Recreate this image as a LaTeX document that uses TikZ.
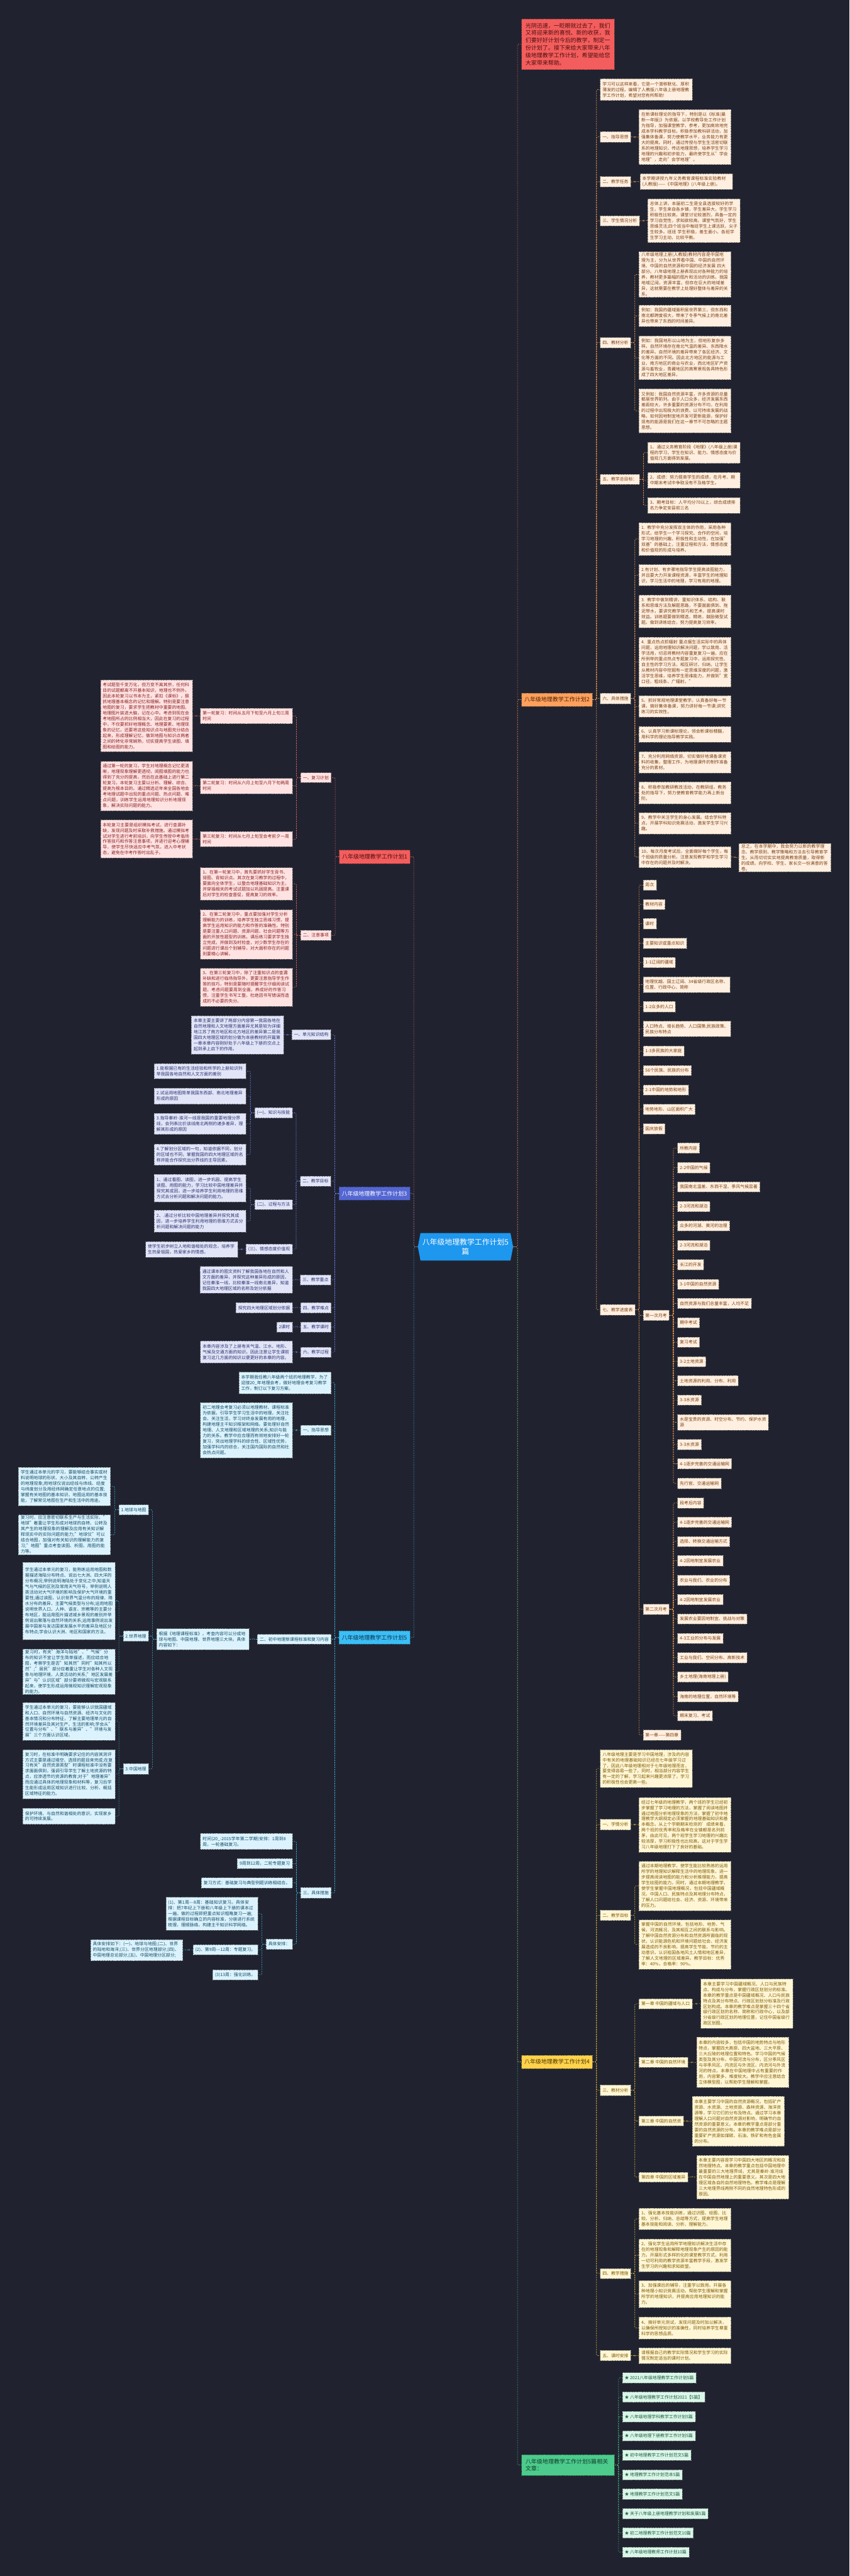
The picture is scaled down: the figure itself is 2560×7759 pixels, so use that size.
\documentclass[tikz,border=0pt]{standalone}
\usepackage{fontspec}
\setmainfont{Noto Sans CJK SC}
\XeTeXlinebreaklocale "zh"
\XeTeXlinebreakskip=0pt plus 0.5pt

\definecolor{bg}{HTML}{20232F}
\definecolor{redF}{HTML}{F45D5D}\definecolor{redL}{HTML}{E46464}\definecolor{redC}{HTML}{FFE3E3}\definecolor{redT}{HTML}{8A1F1F}\definecolor{redBT}{HTML}{4A0F0F}
\definecolor{orgF}{HTML}{FFA05C}\definecolor{orgL}{HTML}{E8924E}\definecolor{orgC}{HTML}{FFEFE0}\definecolor{orgT}{HTML}{7A3F12}\definecolor{orgBT}{HTML}{4A2405}
\definecolor{yelF}{HTML}{FFD24C}\definecolor{yelL}{HTML}{D9AE35}\definecolor{yelC}{HTML}{FFF6D6}\definecolor{yelT}{HTML}{7F5A00}\definecolor{yelBT}{HTML}{4A3800}
\definecolor{grnF}{HTML}{4CCB8C}\definecolor{grnL}{HTML}{48C086}\definecolor{grnC}{HTML}{DAF6E8}\definecolor{grnT}{HTML}{1D5A3E}\definecolor{grnBT}{HTML}{0F3A25}
\definecolor{bluF}{HTML}{5466D2}\definecolor{bluL}{HTML}{6B78DA}\definecolor{bluC}{HTML}{E2E5F7}\definecolor{bluT}{HTML}{2A3270}
\definecolor{cyaF}{HTML}{3BBEF6}\definecolor{cyaL}{HTML}{3EB5EA}\definecolor{cyaC}{HTML}{DCF3FD}\definecolor{cyaT}{HTML}{124A66}\definecolor{cyaBT}{HTML}{0A3148}
\definecolor{rootF}{HTML}{1E97EE}

\pgfdeclarelayer{back}\pgfdeclarelayer{lines}\pgfsetlayers{back,lines,main}

\tikzset{
 box/.style={rectangle, draw, dash pattern=on 3pt off 2pt, line width=0.8pt, inner xsep=7pt, inner ysep=3pt, align=left, font=\fontsize{13}{17}\selectfont},
 kid/.style 2 args={box, fill=#1, draw=#1!50!black, text=#2},
 cR/.style={kid={redC}{redT}}, cO/.style={kid={orgC}{orgT}}, cY/.style={kid={yelC}{yelT}},
 cG/.style={kid={grnC}{grnT}}, cB/.style={kid={bluC}{bluT}}, cC/.style={kid={cyaC}{cyaT}},
 brn/.style={box, inner xsep=8.5pt, font=\fontsize{17}{22}\selectfont},
 brR/.style={brn, fill=redF, draw=redF!60!black, text=redBT},
 brO/.style={brn, fill=orgF, draw=orgF!60!black, text=orgBT},
 brY/.style={brn, fill=yelF, draw=yelF!60!black, text=yelBT},
 brG/.style={brn, inner xsep=12pt, fill=grnF, draw=grnF!60!black, text=grnBT},
 brB/.style={brn, fill=bluF, draw=bluF!60!black, text=white},
 brC/.style={brn, fill=cyaF, draw=cyaF!60!black, text=cyaBT},
 brI/.style={brn, inner xsep=12pt, font=\fontsize{17}{22.4}\selectfont, fill=redF, draw=redF!60!black, text=redBT},
 ln/.style={dash pattern=on 4pt off 3pt, line width=1.1pt, rounded corners=3pt},
 lnR/.style={ln, draw=redL}, lnO/.style={ln, draw=orgL}, lnY/.style={ln, draw=yelL},
 lnG/.style={ln, draw=grnL}, lnB/.style={ln, draw=bluL}, lnC/.style={ln, draw=cyaL},
}
\newcommand\mkR[7]{\node[#2,anchor=north west,text width=#5pt,minimum height=#6pt] (#1) at (#3,#4) {#7};}
\newcommand\mkL[7]{\node[#2,anchor=north east,text width=#5pt,minimum height=#6pt] (#1) at (#3,#4) {#7};}
\newcommand\mkr[6]{\node[#2,anchor=north west,minimum height=#5pt] (#1) at (#3,#4) {#6};}
\newcommand\mkl[6]{\node[#2,anchor=north east,minimum height=#5pt] (#1) at (#3,#4) {#6};}
\newcommand\jr[3]{\draw[#1] (#2.east) -- ++(12,0) |- (#3.west);}
\newcommand\jl[3]{\draw[#1] (#2.west) -- ++(-12,0) |- (#3.east);}

\begin{document}
\begin{tikzpicture}[x=1pt,y=-1pt]
\begin{pgfonlayer}{back}
\fill[bg] (0,0) rectangle (2560,7759);
\end{pgfonlayer}
\useasboundingbox (0,0) rectangle (2560,7759);

% root
\fill[rootF] (1267,3714) -- (1538,3714) -- (1546,3755.5) -- (1538,3797) -- (1267,3797) -- (1259,3755.5) -- cycle;
\node[align=center, text=white, font=\fontsize{22.5}{29}\selectfont, minimum width=287pt, minimum height=83pt, inner sep=0pt] (root) at (1402.5,3755.5) {八年级地理教学工作计划5\\篇};

% ===== right branches =====
\mkR{intro}{brI}{1571}{56}{256}{153}{光阴迅速，一眨眼就过去了，我们又将迎来新的喜悦、新的收获，我们要好好计划今后的教学，制定一份计划了。接下来给大家带来八年级地理教学工作计划，希望能给您大家带来帮助。}
\mkr{b2}{brO}{1571}{2087}{40}{八年级地理教学工作计划2}
\mkr{b4}{brY}{1571}{6190}{40}{八年级地理教学工作计划4}
\mkR{rel}{brG}{1571}{7393}{256}{63}{八年级地理教学工作计划5篇相关文章：}

% ----- plan 2 -----
\mkR{o0}{cO}{1808}{237}{264}{65}{学习可以这样来看，它是一个潜移默化、厚积薄发的过程。编辑了人教版八年级上册地理教学工作计划，希望对您有所帮助!}
\mkr{o1}{cO}{1808}{396}{32}{一、指导思想}
\mkR{o1a}{cO}{1925}{330}{263}{165}{在新课标理论的指导下，特别是以《标准(最新一年版)》为依据，以学校教导处工作计划为指导，加强课堂教学，参考，更加高效地完成本学科教学目标。积极参加教科研活动，加强集体备课，努力使教学水平，业务能力有更大的提高。同时，通过传授与学生生活密切联系的地理知识，传达地理思想，培养学生学习地理的兴趣和初步能力，最终使学生从"学会地理"，走向"会学地理"。}
\mkr{o2}{cO}{1808}{531}{32}{二、教学任务}
\mkR{o2a}{cO}{1928}{523}{264}{47}{本学期讲授九年义务教育课程标准实验教材(人教版)——《中国地理》(八年级上册)。}
\mkr{o3}{cO}{1808}{649}{31}{三、学生情况分析}
\mkR{o3a}{cO}{1951}{598}{264}{132}{总体上讲，本届初二生是全县选拔较好的学生，学生来自各乡镇，学生差异大，学生学习积极性比较高，课堂讨论较激烈，具备一定的学习自觉性，求知欲较高。课堂气氛好，学生思维灵活;四个班当中每班学生上课活跃，尖子生较多。班班 学生积极，差生面小。各班学生学习主动，比较平衡。}
\mkr{o4}{cO}{1808}{1016}{31}{四、教材分析}
\mkR{o4a}{cO}{1925}{758}{263}{133}{八年级地理上册(人教版)教材内容是中国地理为主，分为从世界看中国、中国的自然环境、中国的自然资源和中国的经济发展 四大部分。八年级地理上册表现出对各种能力的培养，教材更多篇幅的图片和活动的训练。我国地域辽阔，资源丰富，但存在巨大的地域差异，这就需要在教学上处理好整体与差异的关系。}
\mkR{o4b}{cO}{1925}{919}{263}{64}{例如：我国的疆域面积居世界第三，但东西和南北都跨度很大，带来了冬季气候上的南北差异也带来了东西的时间差异。}
\mkR{o4c}{cO}{1925}{1012}{263}{131}{例如：我国地形以山地为主，但地形复杂多样。自然环境存在南北气温的差异、东西降水的差异。自然环境的差异带来了各区经济、文化等方面的不同。因此北方地区的能源与工业，南方地区的商业与农业，西北地区矿产资源与畜牧业，青藏地区的高寒景观各具特色形成了四大地区差异。}
\mkR{o4d}{cO}{1925}{1171}{263}{132}{又例如：我国自然资源丰富，许多资源的总量都居世界前列。由于人口众多，经济发展东西差距较大，许多重要的资源分布不均，在利用的过程中出现极大的浪费。以可持续发展的战略，如何因地制宜地开发可更新能源，保护好现有的能源是我们在这一章节不可忽略的主题思想。}
\mkr{o5}{cO}{1808}{1428}{31}{五、教学总目标：}
\mkR{o5a}{cO}{1951}{1331}{264}{64}{1、通过义务教育阶段《地理》(八年级上册)课程的学习，学生在知识、能力、情感态度与价值观几方面得到发展。}
\mkR{o5b}{cO}{1951}{1423}{264}{47}{2、成绩：努力提高学生的成绩，在月考、期中期末考试中争取没有不及格学生。}
\mkR{o5c}{cO}{1951}{1498}{264}{48}{3、期考目标：人平均分70以上，综合成绩排名力争定安县前三名}
\mkr{o6}{cO}{1808}{2087}{32}{六、具体措施}
\mkR{o6a}{cO}{1925}{1574}{263}{98}{1. 教学中充分发挥双主体的作用，采用各种形式，给学生一个学习探究、合作的空间，培学习地理的兴趣、积极性和主动性，在加强"双基"的基础上，注重过程和方法，情感态度和价值观的形成与培养。}
\mkR{o6b}{cO}{1925}{1700}{263}{64}{2.有计划、有步骤地指导学生提高读图能力，并且要大力开发课程资源，丰富学生的地理知识，学习生活中的地理，学习有用的地理。}
\mkR{o6c}{cO}{1925}{1792}{263}{99}{3. 教学中做到精讲，重知识体系、结构、联系和思维方法及解题思路，不要面面俱到、拖泥带水，要讲究教学技巧和艺术，提高课时效益。训练题要做到精选、精练，鼓励微型试题。做到讲练结合，努力提高复习效率。}
\mkR{o6d}{cO}{1925}{1919}{263}{149}{4. 重点热点抓辐射 重点据生活实际中的具体问题，运用地理知识解决问题，学以致用、活学活用，切忌将教材内容重复复习一遍，应在所例举的重点热点专题复习中，运用探究性、自主性的学习方法，相互研讨、归纳，让学生从教材内容中挖掘有一定思维深度的问题，激活学生思维，培养学生思维能力，并做到"宽口径、粗线条、广辐射。"}
\mkR{o6e}{cO}{1925}{2095}{263}{65}{5、抓好常规地理课堂教学。认真备好每一节课，搞好集体备课，努力讲好每一节课;讲究练习的实效性。}
\mkR{o6f}{cO}{1925}{2187}{263}{48}{6、认真学习新课标理论，领会新课标精髓，用科学的理论指导教学实践。}
\mkR{o6g}{cO}{1925}{2263}{263}{65}{7、充分利用网络资源，切实做好地课备课资料的收集，整理工作，为地理课件的制作准备充分的素材。}
\mkR{o6h}{cO}{1925}{2355}{263}{65}{8、积极参加教研教改活动，在教研组，教务处的指导下，努力使教育教学能力再上新台阶。}
\mkR{o6i}{cO}{1925}{2447}{263}{65}{9、教学中关注学生的身心发展。结合学科特点，开展学科知识竞赛活动，激发学生学习兴趣。}
\mkR{o6j}{cO}{1925}{2549}{263}{64}{10、每次月度考试后，全面做好每个学生，每个班级的质量分析。注意发现教学和学生学习中存在的问题并及时解决。}
\mkR{o6k}{cO}{2226}{2540}{263}{82}{总之，在本学期中，我会努力以新的教学理念、教学原则、教学策略和方法去引导教育学生。从而切切实实地提高教育质量，取得新的成绩。向学校、学生、家长交一份满意的答卷。}
\mkr{o7}{cO}{1808}{3929}{31}{七、教学进度表}
\mkr{q1}{cO}{1937}{2650}{31}{周次}
\mkr{q2}{cO}{1937}{2708}{31}{教材内容}
\mkr{q3}{cO}{1937}{2766}{31}{课时}
\mkr{q4}{cO}{1937}{2825}{31}{主要知识或重点知识}
\mkr{q5}{cO}{1937}{2883}{31}{1-1辽阔的疆域}
\mkr{q6}{cO}{1937}{2941}{48}{地理优越、国土辽阔、34省级行政区名称、\\位置、行政中心、简称}
\mkr{q7}{cO}{1937}{3016}{31}{1-2众多的人口}
\mkr{q8}{cO}{1937}{3075}{47}{人口特点、增长趋势、人口国策;民族政策、\\民族分布特点}
\mkr{q9}{cO}{1937}{3150}{31}{1-3多民族的大家庭}
\mkr{q10}{cO}{1937}{3208}{31}{56个民族、民族的分布}
\mkr{q11}{cO}{1937}{3267}{31}{2-1中国的地势和地形}
\mkr{q12}{cO}{1937}{3325}{31}{地势地形、山区面积广大}
\mkr{q13}{cO}{1937}{3384}{31}{国庆放假}
\mkr{q14}{cO}{1937}{3946}{31}{第一次月考}
\mkr{q15}{cO}{1937}{4831}{31}{第二次月考}
\mkr{q16}{cO}{1937}{5210}{31}{第一章——第四章}
\mkr{a1}{cO}{2041}{3442}{31}{所教内容}
\mkr{a2}{cO}{2041}{3501}{31}{2-2中国的气候}
\mkr{a3}{cO}{2041}{3559}{31}{我国南北温差、东西干湿、季风气候显著}
\mkr{a4}{cO}{2041}{3618}{31}{2-3河流和湖泊}
\mkr{a5}{cO}{2041}{3676}{31}{众多的河湖、黄河的治理}
\mkr{a6}{cO}{2041}{3735}{31}{2-3河流和湖泊}
\mkr{a7}{cO}{2041}{3793}{31}{长江的开发}
\mkr{a8}{cO}{2041}{3852}{31}{3-1中国的自然资源}
\mkr{a9}{cO}{2041}{3910}{31}{自然资源与我们总量丰富，人均不足}
\mkr{a10}{cO}{2041}{3968}{31}{期中考试}
\mkr{a11}{cO}{2041}{4027}{31}{复习考试}
\mkr{a12}{cO}{2041}{4085}{31}{3-2土地资源}
\mkr{a13}{cO}{2041}{4143}{31}{土地资源的利用、分布、利用}
\mkr{a14}{cO}{2041}{4201}{31}{3-3水资源}
\mkr{a15}{cO}{2041}{4260}{47}{水是宝贵的资源、时空分布、节约、保护水资\\源}
\mkr{a16}{cO}{2041}{4335}{31}{3-3水资源}
\mkr{a17}{cO}{2041}{4393}{31}{4-1逐步完善的交通运输网}
\mkr{a18}{cO}{2041}{4452}{31}{先行官、交通运输网}
\mkr{c1}{cO}{2041}{4511}{31}{段考后内容}
\mkr{c2}{cO}{2041}{4569}{31}{4-1逐步完善的交通运输网}
\mkr{c3}{cO}{2041}{4627}{31}{选择、转换交通运输方式}
\mkr{c4}{cO}{2041}{4685}{31}{4-2因地制宜发展农业}
\mkr{c5}{cO}{2041}{4744}{31}{农业与我们、农业的分布}
\mkr{c6}{cO}{2041}{4802}{31}{4-2因地制宜发展农业}
\mkr{c7}{cO}{2041}{4860}{31}{发展农业要因地制宜、挑战与对策}
\mkr{c8}{cO}{2041}{4919}{31}{4-3工业的分布与发展}
\mkr{c9}{cO}{2041}{4977}{31}{工业与我们、空间分布、高新技术}
\mkr{c10}{cO}{2041}{5035}{31}{乡土地理(海南地理上册)}
\mkr{c11}{cO}{2041}{5094}{31}{海南的地理位置，自然环境等}
\mkr{c12}{cO}{2041}{5152}{31}{期末复习、考试}

% ----- plan 4 -----
\mkR{y0}{cY}{1808}{5269}{264}{114}{八年级地理主要是学习中国地理，涉及的内容中有关的地理基础知识已经在七年级学习过了，因此八年级地理相对于七年级地理而言，要变得容易一些了。同时，相当部分内容学生有一定的了解，学习起来兴趣更浓厚了，学习的积极性也会更高一些。}
\mkr{y1}{cY}{1808}{5479}{32}{一、学情分析}
\mkR{y1a}{cY}{1925}{5413}{263}{165}{经过七年级的地理教学，两个班的学生已经初步掌握了学习地理的方法，掌握了阅读地图并通过地图分析地理现象的方法，掌握了初中地理教学大纲规定必须掌握的地理基础知识和基本概念。从上个学期期末检测的'成绩来看，两个班的优秀率和及格率在全镇都是名列前茅，由此可见，两个班学生学习地理的兴趣比较浓厚，学习积极性也比较高。这对于学生学习八年级地理打下了良好的基础。}
\mkr{y2}{cY}{1808}{5753}{31}{二、教学目标}
\mkR{y2a}{cY}{1925}{5606}{263}{148}{通过本期地理教学，使学生能比较熟练的运用所学的地理知识解释生活中的地理现象，进一步提高阅读地图的能力和分析推理能力，提高学生绘图的能力。同时，通过本期地理教学，使学生掌握中国地理概况，包括中国疆域概况，中国人口、民族特点及其地理分布特点，了解人口问题给社会、经济、资源、环境带来的压力。}
\mkR{y2b}{cY}{1925}{5782}{263}{148}{掌握中国的自然环境，包括地形、地势、气候，河流概况，及其相互之间的联系与影响。了解中国自然资源分布和自然资源所面临的现状，认识能源危机和环境问题给社会、经济发展造成的不良影响，提高学生节能、节约的主动意识。认识祖国各地风土人情和地区差异，了解人文地理的区域差异。教学目标：优秀率：40\%，合格率：90\%。}
\mkr{y3}{cY}{1808}{6280}{31}{三、教材分析}
\mkr{y3a}{cY}{1925}{6020}{30}{第一章 中国的疆域与人口}
\mkR{y3a1}{cY}{2111}{5960}{264}{149}{本章主要学习中国疆域概况、人口与民族特点、构成与分布，掌握行政区划划分的标准。本章的教学重点是中国疆域概况、人口与民族特点及其分布特点、行政区划划分标准及行政区划构成。本章的教学难点是掌握三十四个省级行政区划的名称、简称和行政中心，以及部分省级行政区划的地理位置，记住中国省级行政区划图。}
\mkr{y3b}{cY}{1925}{6196}{30}{第二章 中国的自然环境}
\mkR{y3b1}{cY}{2098}{6136}{264}{151}{本章的内容较多，包括中国的地势特点与地形特点，掌握四大高原、四大盆地、三大平原、三大丘陵的地理位置和特色。学习中国的气候类型及其分布，中国河流与分布，区分季风区与非季风区、内流区与外流区、内流河与外流河的特点。本章在中国地理中占有重要的作用，内容繁多，难度较大。教学中应注意结合立体模型图，以帮助学生理解和掌握。}
\mkr{y3c}{cY}{1925}{6373}{30}{第三章 中国的自然资}
\mkR{y3c1}{cY}{2085}{6314}{264}{150}{本章主要学习中国的自然资源概况，包括矿产资源、水资源、土地资源、森林资源、海洋资源等，学习它们的分布及特点。通过学习本章理解人口问题对自然资源对影响，明确节约自然资源的重要意义。本章的教学重点是部分重要的自然资源的分布。本章的教学难点是部分重要矿产资源如煤碳、石油、铁矿和有色金属的分布。}
\mkr{y3d}{cY}{1925}{6542}{30}{第四章 中国的区域差异}
\mkR{y3d1}{cY}{2098}{6491}{264}{132}{本章主要内容是学习中国四大地区的概况和自然地理特点。本章的教学重点包括中国地理中最重要的三大地理界线，尤其是秦岭-淮河线在中国自然地理上的重要意义。其次是四大地理区域各自的自然地理特色。教学难点是理解三大地理界线两侧不同的自然地理特色形成的原因。}
\mkr{y4}{cY}{1808}{6832}{30}{四、教学措施}
\mkR{y4a}{cY}{1925}{6651}{263}{64}{1、强化基本技能训练，通过识图、绘图、比较、分析、归纳、总结等方式，提高学生地理基本技能和阅读、分析、理解能力。}
\mkR{y4b}{cY}{1925}{6743}{263}{99}{2、强化学生运用所学地理知识解决生活中存在的地理现象和解释地理现象产生的原因的能力。开展形式多样的化的课堂教学方式，利用一切可利用的教学资源丰富教学手段，激发学生学习的兴趣和求知欲望。}
\mkR{y4c}{cY}{1925}{6869}{263}{81}{3、加强课后的辅导，注重学以致用。开展各种地理小知识竞赛活动，帮助学生理解和掌握所学的地理知识，并提高应用地理知识的能力。}
\mkR{y4d}{cY}{1925}{6979}{263}{65}{4、搞好单元测试，发现问题及时加以解决，以确保所授知识的准确性，同时培养学生尊重科学的思想品质。}
\mkr{y5}{cY}{1808}{7079}{31}{五、课时安排}
\mkR{y5a}{cY}{1925}{7071}{263}{48}{请根据自己的教学实际情况和学生学习的实际情况制定适当的课时计划。}

% ----- related -----
\mkr{g0}{cG}{1875}{7146}{31}{★ 2021八年级地理教学工作计划5篇}
\mkr{g1}{cG}{1875}{7204}{31}{★ 八年级地理教学工作计划2021【5篇】}
\mkr{g2}{cG}{1875}{7263}{31}{★ 八年级地理学科教学工作计划5篇}
\mkr{g3}{cG}{1875}{7321}{31}{★ 八年级地理下册教学工作计划5篇}
\mkr{g4}{cG}{1875}{7379}{31}{★ 初中地理教学工作计划范文5篇}
\mkr{g5}{cG}{1875}{7438}{31}{★ 地理教学工作计划范本5篇}
\mkr{g6}{cG}{1875}{7496}{31}{★ 地理教学工作计划范文5篇}
\mkr{g7}{cG}{1875}{7555}{31}{★ 关于八年级上册地理教学计划和发展5篇}
\mkr{g8}{cG}{1875}{7613}{31}{★ 初二地理教学工作计划范文10篇}
\mkr{g9}{cG}{1875}{7671}{31}{★ 八年级地理教师工作计划10篇}

% ===== left branches =====
\mkl{b1}{brR}{1236}{2560}{40}{八年级地理教学工作计划1}
\mkl{b3}{brB}{1235}{3575}{39}{八年级地理教学工作计划3}
\mkl{b5}{brC}{1235}{4912}{40}{八年级地理教学工作计划5}

% ----- plan 1 -----
\mkl{r1}{cR}{998}{2327}{30}{一、复习计划}
\mkL{r1a}{cR}{881}{2133}{263}{46}{第一轮复习：时间从五月下旬至六月上旬三周时间}
\mkL{r1a1}{cR}{580}{2047}{263}{217}{考试题型千变万化，但万变不离其宗，任何科目的试题都离不开基本知识，地理也不例外。因此本轮复习以书本为主，紧扣《课标》，狠抓地理基本概念的记忆和理解。特别是要注意地图的复习，要求学生把教材中重要的地图、地理图片装进大脑，记在心中。考虑到现在会考地图所占的比例相当大，因此在复习的过程中，不仅要抓好地理概念、地理要素、地理现象的记忆，还要将这些知识点与地图充分结合起来，形成理解记忆，做到地图与知识点两者之间的转化非常娴熟，切实提高学生读图、填图和绘图的能力。}
\mkL{r1b}{cR}{881}{2344}{263}{46}{第二轮复习：时间从六月上旬至六月下旬两周时间}
\mkL{r1b1}{cR}{580}{2293}{263}{148}{通过第一轮的复习，学生对地理概念记忆更清晰，地理现象理解更透彻，阅图填图的能力也得到了充分的提高，然后在此基础上进行第二轮复习。本轮复习主要以分析、理解、综合、提高为根本目的。通过精选近年来全国各地会考地理试题中出现的重点问题、热点问题、难点问题，训练学生运用地理知识分析地理现象，解决实际问题的能力。}
\mkL{r1c}{cR}{881}{2504}{263}{46}{第三轮复习：时间从七月上旬至会考前夕一周时间}
\mkL{r1c1}{cR}{580}{2469}{263}{115}{本轮复习主要是组织模拟考试，进行查漏补缺，发现问题及时采取补救措施。通过模拟考试对学生进行考前培训，向学生传授中考临场作答技巧和作答注意事项，并进行迎考心理辅导，使学生尽快适应中考气氛，进入中考状态，避免在中考作答时出乱子。}
\mkl{r2}{cR}{998}{2802}{30}{二、注意事项}
\mkL{r2a}{cR}{881}{2613}{263}{97}{1、在第一轮复习中，首先要抓好学生背书、背图、背知识点。其次在复习教学的过程中，要面向全体学生，以整合地理基础知识为主，并穿插相关的考试试题加以巩固提高。注重课后对学生的检查督促，提高复习的效率。}
\mkL{r2b}{cR}{881}{2740}{263}{148}{2、在第二轮复习中，重点要加强对学生分析理解能力的训练，培养学生独立思维习惯，提高学生运用知识的能力和作答的准确性。特别是要注重人口问题、资源问题、社会问题等方面的开放性题型的训练。课后练习要求学生独立完成，并做到及时检查，对少数学生存在的问题进行课后个别辅导，对大面积存在的问题则要精心讲解。}
\mkL{r2c}{cR}{881}{2916}{263}{114}{3、在第三轮复习中，除了注重知识点的查漏补缺和进行临场指导外，更要注意指导学生作答的技巧，特别是要随时提醒学生仔细阅读试题，考虑问题要周到全面，养成好的作答习惯，注重学生书写工整，杜绝因书写错误而造成的不必要的失分。}

% ----- plan 3 -----
\mkl{u1}{cB}{997}{3101}{30}{一、单元知识结构}
\mkL{u1a}{cB}{855}{3059}{264}{115}{本章主要主要讲了两部分内容第一我国各地在自然地理和人文地理方面差异尤其是较为详细地江苏了南方地区和北方地区的差异第二是我国四大地理区域的划分做为本册教材的开篇第一章本章内容刚好处于八年级上下册的交点上起到承上启下的作用。}
\mkl{u2}{cB}{997}{3542}{30}{二、教学目标}
\mkl{k1}{cB}{881}{3336}{31}{(一)、知识与技能}
\mkL{k1a}{cB}{742}{3203}{263}{46}{1.能根据已有的生活经验和所学的上册知识列举我国各地自然和人文方面的差别}
\mkL{k1b}{cB}{742}{3277}{263}{48}{2.试运用地图简单我国东西部、南北地理差异形成的原因}
\mkL{k1c}{cB}{742}{3353}{263}{63}{3.指导秦岭-淮河一线是我国的重要地理分界线，会列表比价该线南北两侧的诸多差异，理解其形成的原因}
\mkL{k1d}{cB}{742}{3445}{263}{64}{4.了解划分区域的一句，知道依据不同，划分的区域也不同，掌握我国的四大地理区域的名称并能合作探究出分界线的主导因素。}
\mkl{k2}{cB}{881}{3613}{30}{(二)、过程与方法}
\mkL{k2a}{cB}{742}{3537}{263}{82}{1、通过看图、读图，进一步巩固、提高学生读图、用图的能力，学习比较中国地理差异并探究其成因，进一步培养学生利用地理的思维方式去分析问题和解决问题的能力。}
\mkL{k2b}{cB}{742}{3645}{263}{65}{2、.通过分析比较中国地理差异并探究其成因，进一步培养学生利用地理的思维方式去分析问题和解决问题的能力}
\mkl{k3}{cB}{881}{3747}{30}{(三)、情感态度价值观}
\mkL{k3a}{cB}{716}{3739}{263}{47}{使学生初步树立人地和谐相处的观念，培养学生热爱祖国，热爱家乡的情感。}
\mkl{u3}{cB}{997}{3839}{31}{三、教学重点}
\mkL{u3a}{cB}{881}{3814}{264}{81}{通过课本的图文资料了解我国各地在自然和人文方面的差异，并探究这种差异形成的原因，记住秦淮一线，比较秦淮一线南北差异，知道我国四大地理区域的名称及划分依据}
\mkl{u4}{cB}{998}{3923}{31}{四、教学难点}
\mkl{u4a}{cB}{881}{3923}{31}{探究四大地理区域划分依据}
\mkl{u5}{cB}{998}{3981}{31}{五、教学课时}
\mkl{u5a}{cB}{881}{3981}{31}{2课时}
\mkl{u6}{cB}{998}{4057}{31}{六、教学过程}
\mkL{u6a}{cB}{881}{4039}{263}{65}{本章内容涉及了上册有关气温、江水、地形、气候及交通方面的知识，因此注意让学生课前复习这几方面的知识以便更好的本章的内容。}

% ----- plan 5 -----
\mkL{v0}{cC}{998}{4132}{264}{65}{本学期我任教八年级两个班的地理教学，为了迎接20\_年地理会考，做好地理会考复习教学工作，制订以下复习方案。}
\mkl{v1}{cC}{998}{4292}{31}{一、指导思想}
\mkL{v1a}{cC}{881}{4224}{263}{166}{初二地理会考复习必须以地理教材、课程标准为依据，引导学生学习生活中的地理，关注社会、关注生活，学习对终身发展有用的地理，构建地理主干知识框架和网络。要处理好自然地理、人文地理和区域地理的关系;知识与能力的关系。教学中应合理而有效地安排好一轮复习，突出地理学科的综合性、区域性优势，加强学科内的综合，关注国内国际的自然和社会热点问题。}
\mkl{v2}{cC}{998}{4922}{30}{二、初中地理新课程标准和复习内容}
\mkL{v2a}{cC}{750}{4905}{264}{64}{根据《地理课程标准》，考查内容可以分成地球与地图、中国地理、世界地理三大块。具体内容如下：}
\mkl{w1}{cC}{448}{4532}{30}{1.地球与地图}
\mkL{w1a}{cC}{333}{4419}{263}{115}{学生通过本单元的学习，要能够结合事实或材料说明地球的形状、大小及其自转、公转产生的地理现象;用地球仪说出经线与纬线、经度与纬度划分及用经纬网确定任意地点的位置;掌握有关地图的基本知识、地图运用的基本技能，了解常见地图在生产和生活中的用途。}
\mkL{w1b}{cC}{333}{4562}{263}{115}{复习时，应注意密切联系生产与生活实际，"地球"着重让学生形成对地球的自转、公转及其产生的地理现象的理解及应用有关知识解释现实中的实际问题的能力;"地球仪"可以结合地图，加强对有关知识的理解能力的复习;"地图"重点考查读图、析图、用图的能力等。}
\mkl{w2}{cC}{448}{4912}{31}{2.世界地理}
\mkL{w2a}{cC}{347}{4705}{264}{233}{学生通过本单元的复习，能熟练运用地图和数据描述海陆分布特点、说出七大洲、四大洋的分布概况;举例说明海陆处于变化之中;知道天气与气候的区别及常用天气符号，举例说明人类活动对大气环境的影响及保护大气环境的重要性;通过读图，认识世界气温分布的规律、降水分布的差异、主要气候类型与分布;运用地图说明世界人口、人种、语言、宗教等的主要分布地区，能运用图片描述城乡景观的差别并举例说出聚落与自然环境的关系;运用事例说出发展中国家与发达国家发展水平的差异及地区分布特点;学会认识大洲、地区和国家的方法。}
\mkL{w2b}{cC}{347}{4966}{264}{132}{复习时，有关"海洋与陆地"、"气候"分布的知识不宜让学生简单描述，而应结合地图，考察学生是否"知其然"同时"知其所以然";"居民"部分应着重让学生对各种人文现象与地理环境、人类活动的关系;"地区发展差异"与"认识区域"部分要将微观与宏观联系起来，使学生形成运用微观知识理解宏观现象的能力。}
\mkl{w3}{cC}{448}{5312}{31}{3.中国地理}
\mkL{w3a}{cC}{347}{5127}{264}{114}{学生通过本单元的复习，要能够认识我国疆域和人口、自然环境与自然资源、经济与文化的基本情况和分布特征，了解主要地理单元的自然环境差异及其对生产、生活的影响;学会从"位置与分布"、"联系与差异"、"环境与发展"三个方面认识区域。}
\mkL{w3b}{cC}{347}{5269}{264}{148}{复习时，在标准中明确要求记住的内容其测评方式主要是通过填空、选择的题目来完成;在复习有关"自然资源类型"时课程标准中没有要求面面俱到，强调引导学生了解土地资源的特点，应渗透节约资源的教育;对于"地理差异"而应通过具体的地理现象和材料等，复习后学生能形成运用区域知识进行比较、分析、概括区域特征的能力。}
\mkL{w3c}{cC}{347}{5446}{264}{48}{保护环境、与自然和谐相处的意识，实现家乡的可持续发展。}
\mkl{v3}{cC}{998}{5685}{32}{三、具体措施}
\mkL{t1}{cC}{881}{5522}{263}{48}{时间(20\_-2015学年第二学期)安排：1周到8周，一轮基础复习。}
\mkl{t2}{cC}{881}{5598}{30}{9周到12周，二轮专题复习}
\mkl{t3}{cC}{881}{5655}{31}{复习方式：基础复习与典型例题训练相结合。}
\mkl{t4}{cC}{881}{5840}{31}{具体安排：}
\mkL{s1}{cC}{777}{5714}{263}{99}{(1)、第1周-{}-{}-8周：基础知识复习。具体安排：把7年纪上下册和八年级上下册的课本过一遍。做的过程即把重点知识粗略复习一遍;根据课程目标确立的内容标准，分册进行系统梳理，理顺脉络，构建主干知识科学网络。}
\mkl{s2}{cC}{777}{5857}{30}{(2)、第9周-{}-{}-12周：专题复习。}
\mkL{s2a}{cC}{551}{5841}{264}{64}{具体安排如下：(一)、地球与地图;(二)、世界的陆地和海洋;(三)、世界分区地理部分;(四)、中国地理总论部分;(五)、中国地理分区部分;}
\mkl{s3}{cC}{777}{5932}{31}{(3)13周：强化训练。}

% ===== connectors =====
\begin{pgfonlayer}{lines}
\draw[lnY] (root.east) -- ++(13,0) |- (b4.west);
\draw[lnG] (root.east) -- ++(13,0) |- (rel.west);
\draw[lnR] (root.east) -- ++(13,0) |- (intro.west);
\draw[lnO] (root.east) -- ++(13,0) |- (b2.west);
\draw[lnB] (root.west) -- ++(-12,0) |- (b3.east);
\draw[lnR] (root.west) -- ++(-12,0) |- (b1.east);
\draw[lnC] (root.west) -- ++(-12,0) |- (b5.east);
% plan 2
\foreach \c in {o0,o1,o2,o3,o4,o5,o6,o7} {\jr{lnO}{b2}{\c}}
\jr{lnO}{o1}{o1a}\jr{lnO}{o2}{o2a}\jr{lnO}{o3}{o3a}
\foreach \c in {o4a,o4b,o4c,o4d} {\jr{lnO}{o4}{\c}}
\foreach \c in {o5a,o5b,o5c} {\jr{lnO}{o5}{\c}}
\foreach \c in {o6a,o6b,o6c,o6d,o6e,o6f,o6g,o6h,o6i,o6j} {\jr{lnO}{o6}{\c}}
\jr{lnO}{o6j}{o6k}
\foreach \c in {q1,q2,q3,q4,q5,q6,q7,q8,q9,q10,q11,q12,q13,q14,q15,q16} {\jr{lnO}{o7}{\c}}
\foreach \c in {a1,a2,a3,a4,a5,a6,a7,a8,a9,a10,a11,a12,a13,a14,a15,a16,a17,a18} {\jr{lnO}{q14}{\c}}
\foreach \c in {c1,c2,c3,c4,c5,c6,c7,c8,c9,c10,c11,c12} {\jr{lnO}{q15}{\c}}
% plan 4
\foreach \c in {y0,y1,y2,y3,y4,y5} {\jr{lnY}{b4}{\c}}
\jr{lnY}{y1}{y1a}\jr{lnY}{y2}{y2a}\jr{lnY}{y2}{y2b}
\foreach \c in {y3a,y3b,y3c,y3d} {\jr{lnY}{y3}{\c}}
\jr{lnY}{y3a}{y3a1}\jr{lnY}{y3b}{y3b1}\jr{lnY}{y3c}{y3c1}\jr{lnY}{y3d}{y3d1}
\foreach \c in {y4a,y4b,y4c,y4d} {\jr{lnY}{y4}{\c}}
\jr{lnY}{y5}{y5a}
% related
\foreach \c in {g0,g1,g2,g3,g4,g5,g6,g7,g8,g9} {\jr{lnG}{rel}{\c}}
% plan 1
\jl{lnR}{b1}{r1}\jl{lnR}{b1}{r2}
\foreach \c in {r1a,r1b,r1c} {\jl{lnR}{r1}{\c}}
\jl{lnR}{r1a}{r1a1}\jl{lnR}{r1b}{r1b1}\jl{lnR}{r1c}{r1c1}
\foreach \c in {r2a,r2b,r2c} {\jl{lnR}{r2}{\c}}
% plan 3
\foreach \c in {u1,u2,u3,u4,u5,u6} {\jl{lnB}{b3}{\c}}
\jl{lnB}{u1}{u1a}
\foreach \c in {k1,k2,k3} {\jl{lnB}{u2}{\c}}
\foreach \c in {k1a,k1b,k1c,k1d} {\jl{lnB}{k1}{\c}}
\jl{lnB}{k2}{k2a}\jl{lnB}{k2}{k2b}\jl{lnB}{k3}{k3a}
\jl{lnB}{u3}{u3a}\jl{lnB}{u4}{u4a}\jl{lnB}{u5}{u5a}\jl{lnB}{u6}{u6a}
% plan 5
\foreach \c in {v0,v1,v2,v3} {\jl{lnC}{b5}{\c}}
\jl{lnC}{v1}{v1a}\jl{lnC}{v2}{v2a}
\foreach \c in {w1,w2,w3} {\jl{lnC}{v2a}{\c}}
\jl{lnC}{w1}{w1a}\jl{lnC}{w1}{w1b}\jl{lnC}{w2}{w2a}\jl{lnC}{w2}{w2b}
\foreach \c in {w3a,w3b,w3c} {\jl{lnC}{w3}{\c}}
\foreach \c in {t1,t2,t3,t4} {\jl{lnC}{v3}{\c}}
\foreach \c in {s1,s2,s3} {\jl{lnC}{t4}{\c}}
\jl{lnC}{s2}{s2a}
\end{pgfonlayer}
\end{tikzpicture}
\end{document}
